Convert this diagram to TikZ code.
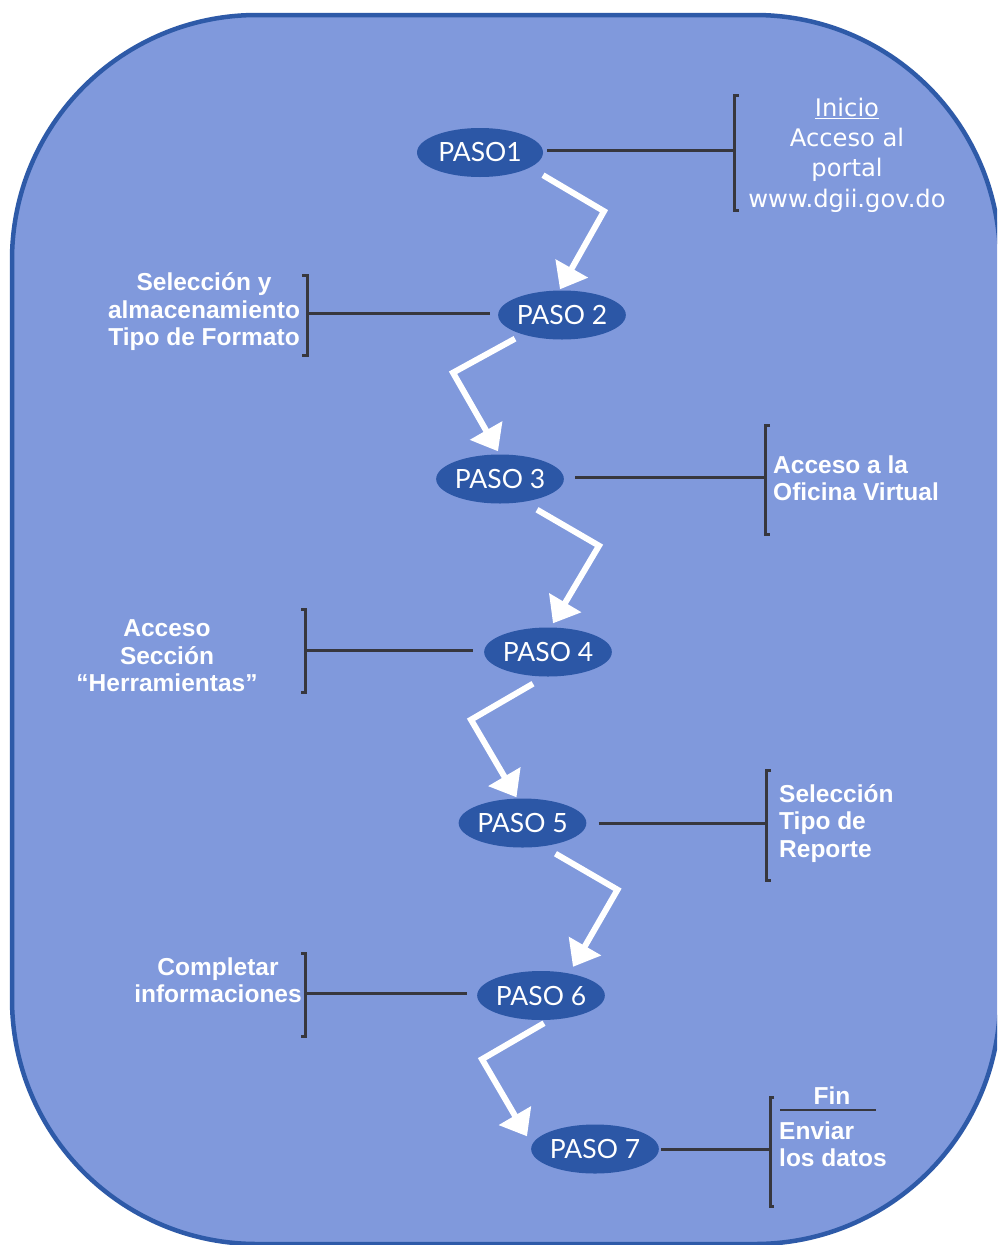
\documentclass[tikz,border=0pt]{standalone}
\usepackage{fontspec}
\setmainfont{Liberation Sans}
\newfontfamily\pasofont{Lato}
\newfontfamily\portalfont{DejaVu Sans}
\usetikzlibrary{shapes.geometric,arrows.meta}

\definecolor{panelblue}{RGB}{128,153,220}
\definecolor{rimblue}{RGB}{46,90,168}
\definecolor{pasoblue}{RGB}{44,87,166}
\definecolor{bargray}{RGB}{55,55,62}

\tikzset{
  paso/.style={ellipse, fill=pasoblue, text=white, minimum width=126pt,
    minimum height=49pt, inner sep=0pt, font=\pasofont\fontsize{26.5}{30}\selectfont},
  steparrow/.style={draw=white, line width=6pt, -{Triangle[length=24pt,width=36pt]}},
  tiebar/.style={draw=bargray, line width=3pt},
  bracketline/.style={draw=bargray, line width=3pt},
  notetext/.style={text=white, inner sep=0pt, font=\bfseries\fontsize{24.5}{27.5}\selectfont},
  portaltext/.style={text=white, inner sep=0pt, font=\portalfont\fontsize{24.2}{30.3}\selectfont}
}

\begin{document}
\begin{tikzpicture}[x=1pt,y=-1pt]

    % Canvas
    \useasboundingbox (0,0) rectangle (997,1245);
    \fill[white] (0,0) rectangle (997,1245);
    \clip (0,0) rectangle (997,1245);

    % Background panel
    \draw[fill=panelblue, draw=rimblue, line width=4.5pt, rounded corners=245pt]
        (12,15) rectangle (1000,1244);

    % Steps
    \node[paso] (p1) at (480,152.5) {PASO1};
    \node[paso] (p2) at (562,315) {PASO 2};
    \node[paso] (p3) at (500,479) {PASO 3};
    \node[paso] (p4) at (548,652) {PASO 4};
    \node[paso] (p5) at (522.5,823) {PASO 5};
    \node[paso] (p6) at (541,995.5) {PASO 6};
    \node[paso] (p7) at (595,1149) {PASO 7};

    % Arrows between steps
    \draw[steparrow] ([shift={(63,-2)}]p1.south) -- ++(61,36) -- ([shift={(-2,-1)}]p2.north);
    \draw[steparrow] ([shift={(-47,-1)}]p2.south) -- ++(-62,34) -- ([shift={(-2,-3)}]p3.north);
    \draw[steparrow] ([shift={(37,6)}]p3.south) -- ++(62,36) -- ([shift={(5,-4)}]p4.north);
    \draw[steparrow] ([shift={(-15,7)}]p4.south) -- ++(-62,36) -- ([shift={(-6,-1)}]p5.north);
    \draw[steparrow] ([shift={(33,6)}]p5.south) -- ++(62,36) -- ([shift={(32,-4)}]p6.north);
    \draw[steparrow] ([shift={(3,3)}]p6.south) -- ++(-62,36) -- ([shift={(-68,12)}]p7.north);

    % Brackets
    \draw[bracketline] (739,95) -- (734,95) -- (734,210) -- (739,210);
    \draw[bracketline] (302,275) -- (307,275) -- (307,355) -- (302,355);
    \draw[bracketline] (770,425) -- (765,425) -- (765,534) -- (770,534);
    \draw[bracketline] (301,609) -- (305,609) -- (305,692) -- (301,692);
    \draw[bracketline] (771,770) -- (766,770) -- (766,880) -- (771,880);
    \draw[bracketline] (301,953) -- (305,953) -- (305,1036) -- (301,1036);
    \draw[bracketline] (774,1097) -- (770,1097) -- (770,1206) -- (774,1206);

    \coordinate (b1) at (734,150);
    \coordinate (b2) at (307,313);
    \coordinate (b3) at (765,477);
    \coordinate (b4) at (305,650);
    \coordinate (b5) at (766,823);
    \coordinate (b6) at (305,993);
    \coordinate (b7) at (770,1149);

    % Step to bracket
    \draw[tiebar, shorten <=4pt] (p1.east |- b1) -- (b1);
    \draw[tiebar, shorten <=8pt] (p2.west |- b2) -- (b2);
    \draw[tiebar, shorten <=11pt] (p3.east |- b3) -- (b3);
    \draw[tiebar, shorten <=11pt] (p4.west |- b4) -- (b4);
    \draw[tiebar, shorten <=12pt] (p5.east |- b5) -- (b5);
    \draw[tiebar, shorten <=10pt] (p6.west |- b6) -- (b6);
    \draw[tiebar, shorten <=2pt] (p7.east |- b7) -- (b7);

    % Text labels
    \node[portaltext, align=center] (t1) at (847,155) {\underline{Inicio}\\Acceso al\\portal\\www.dgii.gov.do};
    \node[notetext, align=center] (t2) at (204,312) {Selección y\\almacenamiento\\Tipo de Formato};
    \node[notetext, align=left, anchor=west] (t3) at (773,478) {Acceso a la\\Oficina Virtual};
    \node[notetext, align=center] (t4) at (167,656) {Acceso\\Sección\\“Herramientas”};
    \node[notetext, align=left, anchor=west] (t5) at (779,823.5) {Selección\\Tipo de\\Reporte};
    \node[notetext, align=center] (t6) at (218,980) {Completar\\informaciones};
    \node[notetext] (t7) at (832,1096) {Fin};
    \draw[bargray, line width=1.7pt] (780,1110) -- (876,1110);
    \node[notetext, align=left, anchor=west] (t8) at (779,1144) {Enviar\\los datos};

\end{tikzpicture}
\end{document}
